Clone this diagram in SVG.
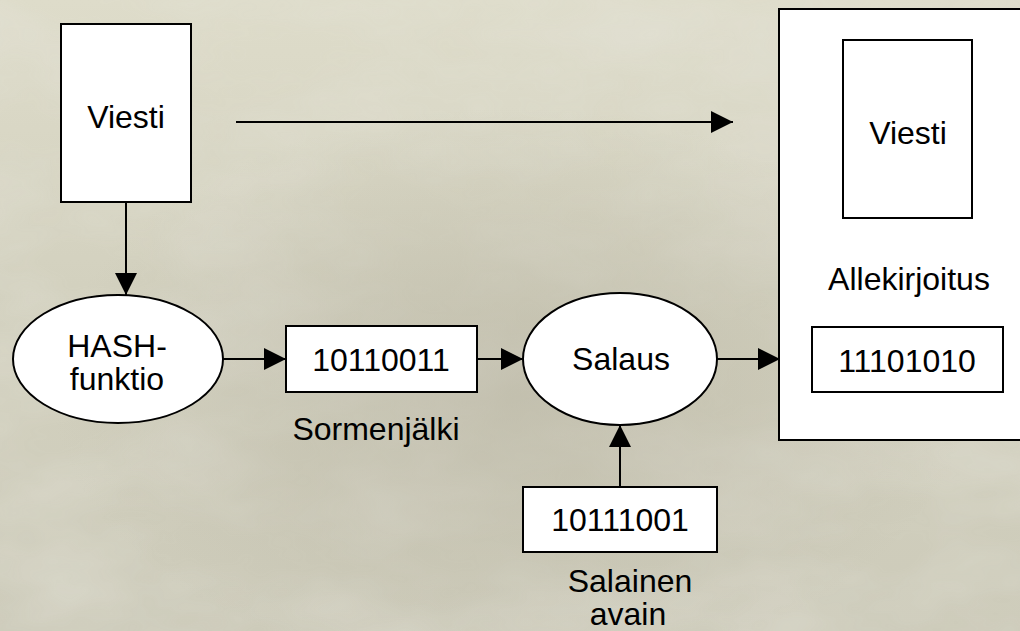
<svg xmlns="http://www.w3.org/2000/svg" width="1020" height="631" viewBox="0 0 1020 631">
  <style>
    .box { fill: #ffffff; stroke: #000000; stroke-width: 2; }
    .lbl { font-family: "Liberation Sans", Arial, sans-serif; font-size: 32px; fill: #000000; text-anchor: middle; }
    .wire { fill: none; stroke: #000000; stroke-width: 2; }
  </style>
  <defs>
    <marker id="arrow" viewBox="0 0 22 22" refX="22" refY="11" markerUnits="userSpaceOnUse" markerWidth="22" markerHeight="22" orient="auto">
      <path d="M0,0 L22,11 L0,22 Z" fill="#000000"/>
    </marker>
    <linearGradient id="bgTone" x1="0" y1="0" x2="0" y2="1">
      <stop offset="0" stop-color="#dedcca"/>
      <stop offset="0.45" stop-color="#d3d1bf"/>
      <stop offset="1" stop-color="#cdcbba"/>
    </linearGradient>
    <radialGradient id="shade" cx="0.5" cy="0.62" r="0.45">
      <stop offset="0" stop-color="#b5b19f" stop-opacity="0.55"/>
      <stop offset="1" stop-color="#b5b19f" stop-opacity="0"/>
    </radialGradient>
    <filter id="grain" x="0" y="0" width="100%" height="100%">
      <feTurbulence type="fractalNoise" baseFrequency="0.006 0.012" numOctaves="4" seed="7"/>
      <feColorMatrix type="matrix" values="0 0 0 0 0.78  0 0 0 0 0.77  0 0 0 0 0.70  0 0 0 -1.1 0.75"/>
    </filter>
  </defs>

  <!-- stone-textured backdrop -->
  <rect x="0" y="0" width="1020" height="631" fill="url(#bgTone)"/>
  <rect x="0" y="0" width="1020" height="631" filter="url(#grain)" opacity="0.7"/>
  <rect x="0" y="0" width="1020" height="631" fill="url(#shade)"/>

  <!-- connectors -->
  <g id="connectors">
    <line class="wire" x1="236" y1="122" x2="733" y2="122" marker-end="url(#arrow)"/>
    <line class="wire" x1="126" y1="202" x2="126" y2="295" marker-end="url(#arrow)"/>
    <line class="wire" x1="223" y1="359" x2="286" y2="359" marker-end="url(#arrow)"/>
    <line class="wire" x1="477" y1="359" x2="523" y2="359" marker-end="url(#arrow)"/>
    <line class="wire" x1="717" y1="359" x2="780" y2="359" marker-end="url(#arrow)"/>
    <line class="wire" x1="620" y1="487" x2="620" y2="425" marker-end="url(#arrow)"/>
  </g>

  <!-- message -->
  <g id="viesti">
    <rect class="box" x="61" y="24" width="130" height="178"/>
    <text class="lbl" x="126" y="128">Viesti</text>
  </g>

  <!-- hash function -->
  <g id="hash">
    <ellipse class="box" cx="118" cy="359" rx="105" ry="64"/>
    <text class="lbl" x="117" y="357">HASH-</text>
    <text class="lbl" x="117" y="390">funktio</text>
  </g>

  <!-- fingerprint -->
  <g id="sormenjalki">
    <rect class="box" x="286" y="326" width="191" height="66"/>
    <text class="lbl" x="381" y="371">10110011</text>
    <text class="lbl" x="376" y="440">Sormenjälki</text>
  </g>

  <!-- encryption -->
  <g id="salaus">
    <ellipse class="box" cx="620" cy="359" rx="97" ry="66"/>
    <text class="lbl" x="621" y="370">Salaus</text>
  </g>

  <!-- secret key -->
  <g id="avain">
    <rect class="box" x="523" y="487" width="194" height="65"/>
    <text class="lbl" x="620" y="531">10111001</text>
    <text class="lbl" x="630" y="592">Salainen</text>
    <text class="lbl" x="628" y="625">avain</text>
  </g>

  <!-- signed message -->
  <g id="allekirjoitettu">
    <rect class="box" x="779" y="9" width="260" height="431"/>
    <rect class="box" x="843" y="40" width="129" height="178"/>
    <text class="lbl" x="908" y="144">Viesti</text>
    <text class="lbl" x="909" y="290">Allekirjoitus</text>
    <rect class="box" x="812" y="327" width="191" height="65"/>
    <text class="lbl" x="907" y="372">11101010</text>
  </g>
</svg>
